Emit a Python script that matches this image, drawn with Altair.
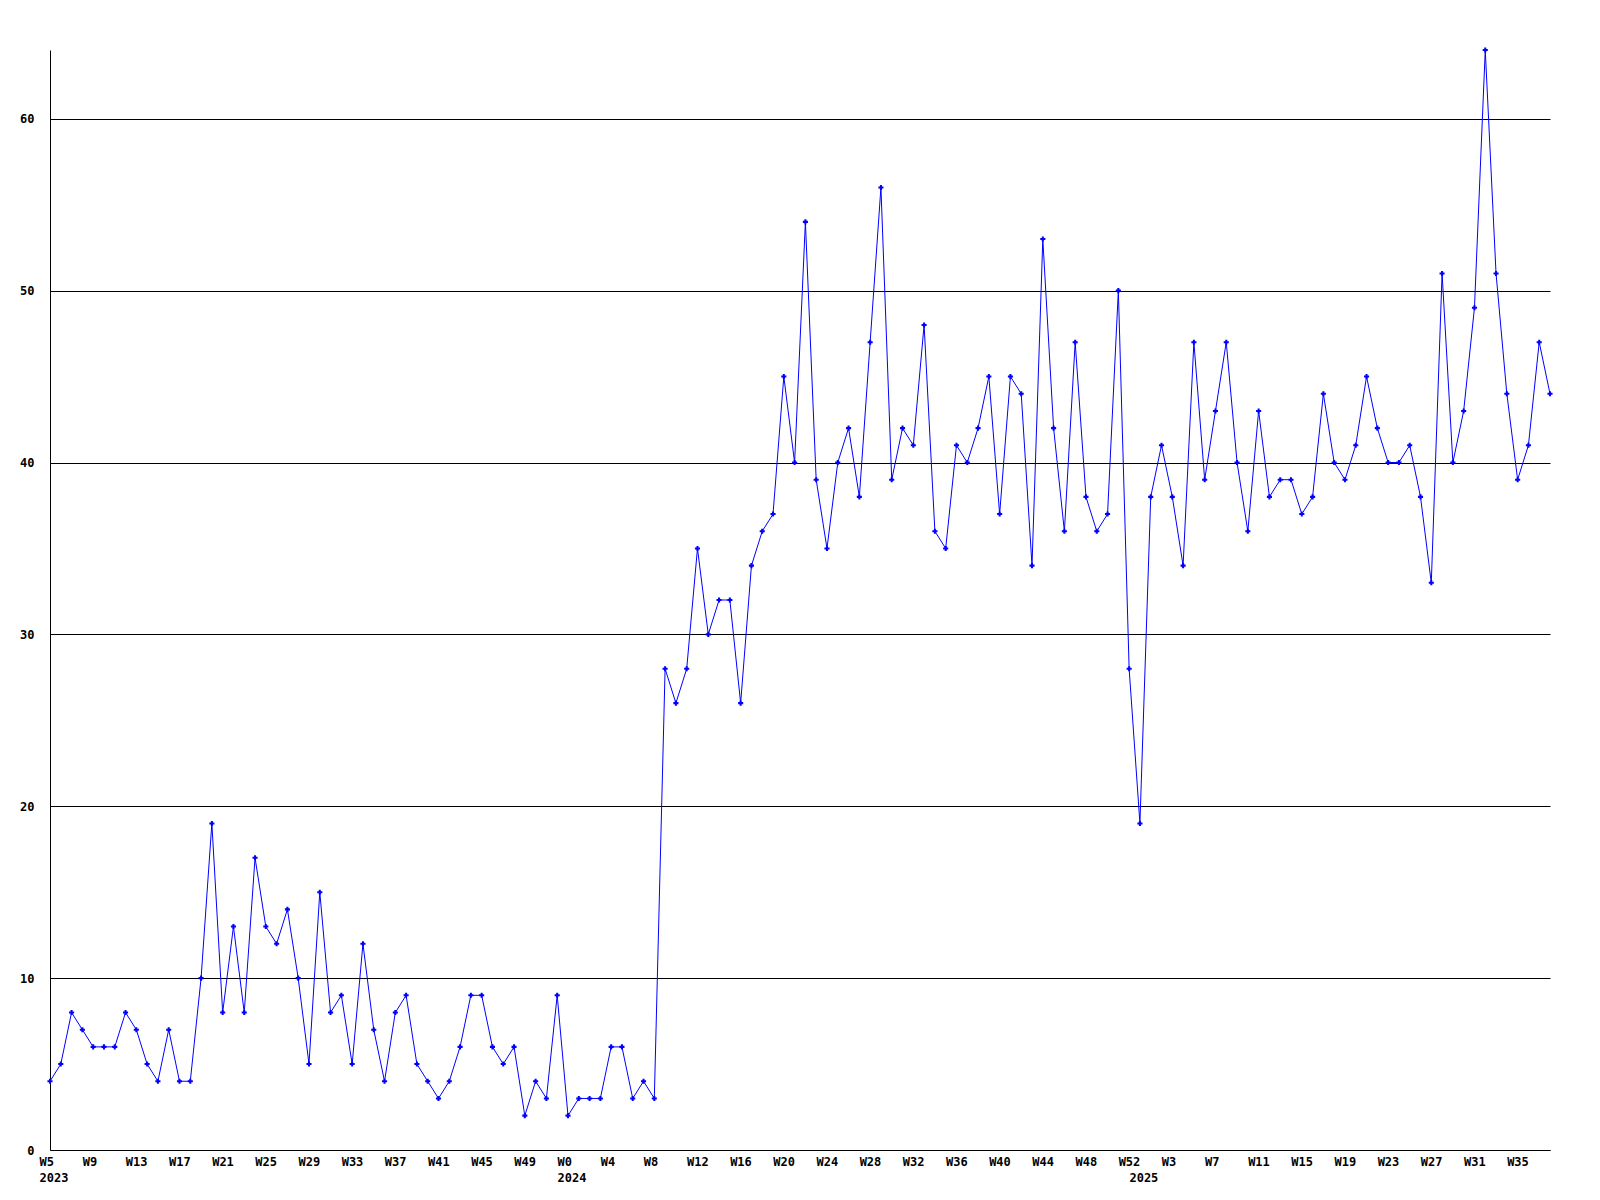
import altair as alt
import pandas as pd

values = [
    4, 5, 8, 7, 6, 6, 6, 8, 7, 5, 4, 7, 4, 4, 10, 19, 8, 13, 8, 17,
    13, 12, 14, 10, 5, 15, 8, 9, 5, 12, 7, 4, 8, 9, 5, 4, 3, 4, 6, 9,
    9, 6, 5, 6, 2, 4, 3, 9, 2, 3, 3, 3, 6, 6, 3, 4, 3, 28, 26, 28,
    35, 30, 32, 32, 26, 34, 36, 37, 45, 40, 54, 39, 35, 40, 42, 38, 47, 56, 39, 42,
    41, 48, 36, 35, 41, 40, 42, 45, 37, 45, 44, 34, 53, 42, 36, 47, 38, 36, 37, 50,
    28, 19, 38, 41, 38, 34, 47, 39, 43, 47, 40, 36, 43, 38, 39, 39, 37, 38, 44, 40,
    39, 41, 45, 42, 40, 40, 41, 38, 33, 51, 40, 43, 49, 64, 51, 44, 39, 41, 47, 44,
]

week_labels = (
    ["W%d" % w for w in range(5, 53, 4)]      # 2023
    + ["W%d" % w for w in range(0, 53, 4)]    # 2024
    + ["W%d" % w for w in range(3, 36, 4)]    # 2025
)
year_labels = {0: "2023", 48: "2024", 101: "2025"}
y_ticks = [0, 10, 20, 30, 40, 50, 60]

df = pd.DataFrame({"i": list(range(len(values))), "v": values})

tick_vals = sorted(set(list(range(0, 4 * len(week_labels), 4)) + list(year_labels.keys())))
lab_arrays = []
for t in tick_vals:
    first = week_labels[t // 4] if t % 4 == 0 else ""
    lines = [first]
    if t in year_labels:
        lines.append(year_labels[t])
    lab_arrays.append("[" + ",".join("'%s'" % s for s in lines) + "]")
label_expr = "[" + ",".join(lab_arrays) + "][indexof([" + ",".join(str(t) for t in tick_vals) + "], datum.value)]"

font = "DejaVu Sans Mono"

x = alt.X(
    "i:Q",
    scale=alt.Scale(domain=[0, len(values) - 1], nice=False, zero=False),
    axis=alt.Axis(
        values=tick_vals, labelExpr=label_expr, title=None, grid=False, ticks=False,
        labelAlign="left", labelOffset=-11, labelBaseline="top", labelPadding=6,
        labelLineHeight=16, labelOverlap=False, labelFlush=False, labelBound=False,
        labelFont=font, labelFontSize=12, labelFontWeight="bold", labelColor="black",
        domainColor="black", domainWidth=1,
    ),
)
y = alt.Y(
    "v:Q",
    scale=alt.Scale(domain=[0, 64], nice=False),
    axis=alt.Axis(
        values=y_ticks, title=None, grid=True, gridColor="black", gridWidth=1, gridOpacity=1,
        ticks=False, labelPadding=16, labelFont=font, labelFontSize=12,
        labelFontWeight="bold", labelColor="black", domainColor="black", domainWidth=1,
    ),
)

base = alt.Chart(df)
line = base.mark_line(color="#0000ff", strokeWidth=1).encode(x=x, y=y)
pts = base.mark_point(shape="cross", filled=True, size=26, color="#0000ff", opacity=1).encode(x=x, y=y)

chart = (
    alt.layer(line, pts)
    .properties(
        width=1500, height=1100,
        autosize=alt.AutoSizeParams(type="none"),
        padding={"left": 42, "top": 42, "right": 40, "bottom": 40},
        background="white",
    )
    .configure_view(stroke=None)
)

chart.save("out.html", embed_options={"renderer": "svg", "actions": False})
